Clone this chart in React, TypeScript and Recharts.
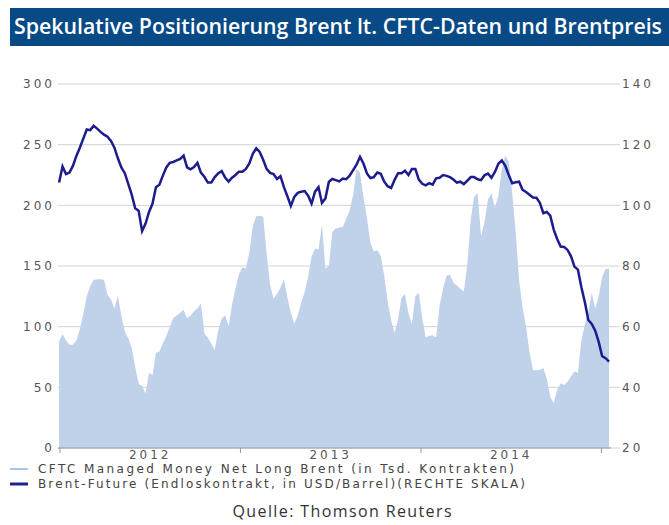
import { ComposedChart, Area, Line, XAxis, YAxis, CartesianGrid } from "recharts";

// CFTC managed money net long Brent, thousand contracts (weekly)
const cftc = [
  88, 94, 88.5, 85, 85, 88.5, 97.5, 110.5, 125, 133.5,
  138.5, 139, 139, 138.7, 126, 122.5, 115, 125.5, 109, 96,
  90.5, 82.5, 67, 53, 51, 45, 62, 60, 78.5, 79.4,
  86.3, 92, 100, 107, 109.3, 111.5, 114, 107, 109, 112.8,
  115, 119, 94.5, 91, 86, 80.5, 97, 106.5, 109.5, 100.5,
  118, 131.5, 143, 149, 148, 161, 183, 191, 191.5, 190.5,
  161, 134.5, 123, 127, 132, 139, 124, 111.5, 102.5, 109,
  120, 128.5, 141, 158, 164.5, 163.5, 184, 148, 150, 178,
  181, 181.8, 182.2, 189, 195.5, 208.5, 230, 227, 206.5, 189.5,
  169, 162, 163, 158, 142, 120.5, 105, 95, 106, 124,
  127, 111, 102.5, 125, 128, 107, 91, 92.5, 93, 91,
  117, 131.5, 142, 143, 136.5, 134, 131.5, 129, 150, 188,
  207, 210, 175, 186, 205, 210, 198, 208, 230, 241,
  236, 210, 178, 138, 116, 100, 79, 64.5, 64, 64.5,
  66, 57, 42, 37, 48, 53.3, 52, 54.5, 59, 63,
  62, 88.5, 102, 112, 128, 115, 125, 141, 147.5, 148,
];

// Brent front month, USD/barrel (right scale)
const brent = [
  107.5, 112.8, 110.3, 110.8, 113, 116.3, 119, 122, 125, 124.8,
  126.2, 125.3, 124.2, 123.3, 122.6, 121.2, 119, 115.5, 112.5, 110.6,
  107.1, 103.5, 99, 98.2, 91.5, 94, 97.8, 100.5, 106, 106.8,
  109.8, 112.5, 114, 114.3, 114.8, 115.3, 116.4, 112.5, 111.9, 112.6,
  114, 110.8, 109.4, 107.5, 107.5, 109.3, 110.5, 111.3, 109.2, 107.8,
  109.1, 110, 111.1, 111.1, 112, 113.8, 117, 118.8, 117.6, 115,
  112, 110.7, 110.3, 108.7, 109.6, 106, 103, 99.8, 102.8, 104.1,
  104.5, 104.7, 103.2, 100.6, 104.5, 106, 100.8, 102.3, 107.8, 108.7,
  108.3, 107.9, 108.8, 108.6, 109.8, 111.6, 113.4, 116, 113.8, 110.5,
  109, 109.3, 110.8, 110.4, 107.8, 106.3, 105.7, 108.4, 110.6, 110.6,
  111.4, 110, 112, 112, 108.5, 107.1, 106.6, 107.3, 106.8, 108.9,
  109.1, 110, 109.7, 109.3, 108.5, 107.5, 107.8, 107, 108.1, 109.3,
  109.3, 108.6, 108.3, 109.9, 110.5, 109.1, 111, 113.7, 114.8, 113,
  110, 107.3, 107.6, 107.8, 105.1, 104.4, 103.5, 102.6, 102.5, 100.8,
  97.4, 97.8, 96.6, 92, 88.9, 86.4, 86.3, 85.3, 83.2, 79.8,
  78.8, 73, 68.1, 62.2, 60.9, 58.7, 55, 50.3, 49.6, 48.5,
];

const years = [2012, 2013, 2014];
const leftTicks = [0, 50, 100, 150, 200, 250, 300];
const rightTicks = [20, 40, 60, 80, 100, 120, 140];

// weekly reports starting in the first days of 2012, time in fractional years
const firstWeek = 2011.995;
const weekStep = 7 / 365.25;

const data = cftc.map((v, i) => ({
  t: firstWeek + i * weekStep,
  cftc: v,
  brent: brent[i],
}));

// year boundaries get a tick mark, mid-year positions get the label
const xTicks = [...years.flatMap((y) => [y, y + 0.5]), years[years.length - 1] + 1];

const axisFont = "DejaVu Sans, Verdana, sans-serif";

const YearTick = (props: any) => {
  const { x, y, payload } = props;
  const v = payload.value as number;
  if (Number.isInteger(v)) {
    return <line x1={x} x2={x} y1={y} y2={y + 5} stroke="#9a9a9a" />;
  }
  return (
    <text
      x={x}
      y={y + 11}
      textAnchor="middle"
      fontSize={12}
      fill="#555"
      fontFamily={axisFont}
      letterSpacing={3}
    >
      {Math.floor(v)}
    </text>
  );
};

export default function App() {
  return (
    <div
      style={{
        position: "absolute",
        left: 0,
        top: 0,
        width: 669,
        height: 525,
        background: "#fff",
        fontFamily: axisFont,
      }}
    >
      <svg width={669} height={60} style={{ position: "absolute", left: 0, top: 0 }}>
        <rect x={10} y={8} width={659} height={38} fill="#074a85" />
        <text
          x={14}
          y={34}
          fill="#fff"
          fontSize={21}
          fontFamily="Open Sans, Noto Sans, sans-serif"
          fontWeight={600}
          textLength={648}
          lengthAdjust="spacingAndGlyphs"
        >
          Spekulative Positionierung Brent lt. CFTC-Daten und Brentpreis
        </text>
      </svg>

      <div style={{ position: "absolute", left: 0, top: 0 }}>
        <ComposedChart
          width={669}
          height={470}
          data={data}
          margin={{ top: 84, right: 0, bottom: 0, left: 0 }}
        >
          <CartesianGrid vertical={false} stroke="#d2d2d2" yAxisId="left" />
          <XAxis
            dataKey="t"
            type="number"
            domain={[2011.989, 2015.053]}
            ticks={xTicks}
            interval={0}
            tick={<YearTick />}
            tickLine={false}
            tickSize={0}
            tickMargin={0}
            height={22}
            axisLine={{ stroke: "#9a9a9a" }}
          />
          <YAxis
            yAxisId="left"
            domain={[0, 300]}
            ticks={leftTicks}
            width={58}
            axisLine={false}
            tickLine={false}
            tickSize={3}
            tickMargin={0}
            tick={{ fontSize: 12, fill: "#555", fontFamily: axisFont, letterSpacing: 3 }}
          />
          <YAxis
            yAxisId="right"
            orientation="right"
            domain={[20, 140]}
            ticks={rightTicks}
            width={58}
            axisLine={false}
            tickLine={{ stroke: "#d2d2d2" }}
            tickSize={9}
            tickMargin={2}
            tick={{ fontSize: 12, fill: "#555", fontFamily: axisFont, letterSpacing: 3 }}
          />
          <Area
            yAxisId="left"
            type="linear"
            dataKey="cftc"
            fill="#c0d1ea"
            fillOpacity={1}
            stroke="none"
            isAnimationActive={false}
          />
          <Line
            yAxisId="right"
            type="linear"
            dataKey="brent"
            stroke="#1c1c8c"
            strokeWidth={2.5}
            dot={false}
            activeDot={false}
            isAnimationActive={false}
          />
        </ComposedChart>
      </div>

      <svg width={669} height={65} style={{ position: "absolute", left: 0, top: 460 }}>
        <line x1={10} x2={28} y1={9} y2={9} stroke="#a6c6ec" strokeWidth={2} />
        <text x={38} y={13} fontSize={12} fill="#444" fontFamily={axisFont} textLength={476}>
          CFTC Managed Money Net Long Brent (in Tsd. Kontrakten)
        </text>
        <line x1={10} x2={28} y1={24} y2={24} stroke="#22228c" strokeWidth={3} />
        <text x={38} y={28} fontSize={12} fill="#444" fontFamily={axisFont} textLength={487}>
          Brent-Future (Endloskontrakt, in USD/Barrel)(RECHTE SKALA)
        </text>
        <text
          x={342}
          y={57}
          textAnchor="middle"
          fontSize={16}
          fill="#333"
          fontFamily="Open Sans, Noto Sans, sans-serif"
          textLength={219}
        >
          Quelle: Thomson Reuters
        </text>
      </svg>
    </div>
  );
}
